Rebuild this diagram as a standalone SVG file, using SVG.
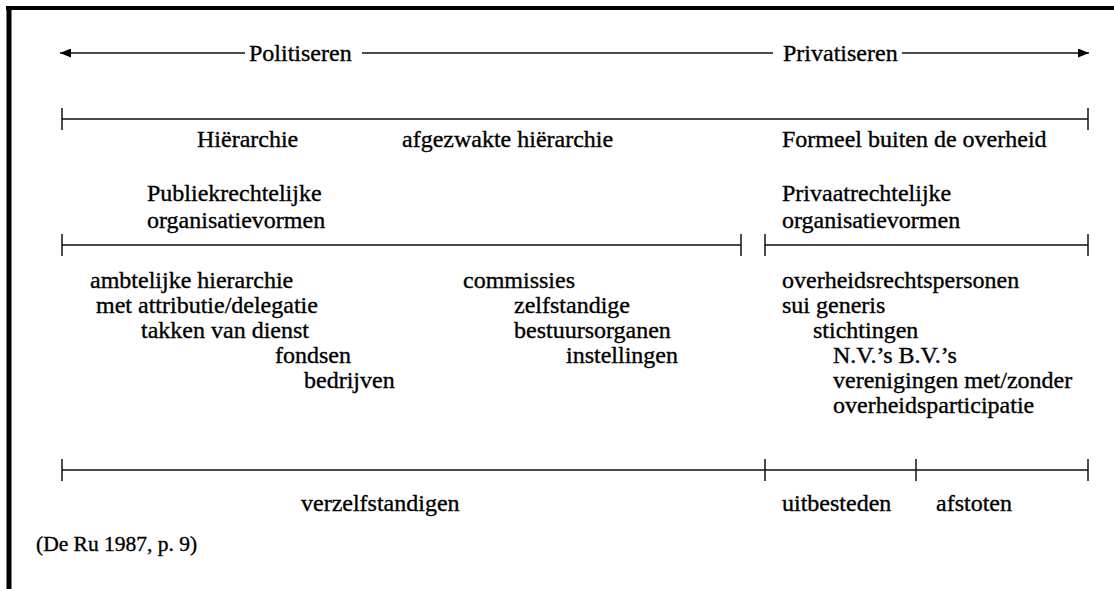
<svg xmlns="http://www.w3.org/2000/svg" width="1114" height="589" viewBox="0 0 1114 589">
<style>
text{font-family:"Liberation Serif","Times New Roman",serif;font-size:24px;fill:#000;stroke:#000;stroke-width:0.35;}
.ax{stroke:#111;stroke-width:1.6;fill:none;}
.sc{stroke:#4a4a4a;stroke-width:2;fill:none;}
.tk{stroke:#111;stroke-width:1.5;fill:none;}
.fr{stroke:#000;fill:none;}
</style>
<defs>
<marker id="ah" viewBox="0 0 11 9" refX="11" refY="4.5" markerWidth="11" markerHeight="9" markerUnits="userSpaceOnUse" orient="auto">
<path d="M0,0 L11,4.5 L0,9 z" fill="#000"/>
</marker>
</defs>
<rect width="1114" height="589" fill="#fff"/>
<g id="frame">
<line class="fr" x1="6" y1="8" x2="1114" y2="8" stroke-width="4"/>
<line class="fr" x1="9" y1="6" x2="9" y2="589" stroke-width="5"/>
</g>
<g id="connectors">
<line class="ax" x1="245" y1="53" x2="60" y2="53" marker-end="url(#ah)"/>
<line class="ax" x1="362" y1="53" x2="773" y2="53"/>
<line class="ax" x1="902" y1="53" x2="1089" y2="53" marker-end="url(#ah)"/>
<line class="sc" x1="62" y1="119" x2="1088" y2="119"/>
<line class="tk" x1="62" y1="108" x2="62" y2="130"/>
<line class="tk" x1="1088" y1="108" x2="1088" y2="130"/>
<line class="sc" x1="62" y1="245" x2="741" y2="245"/>
<line class="tk" x1="62" y1="234" x2="62" y2="256"/>
<line class="tk" x1="741" y1="234" x2="741" y2="256"/>
<line class="sc" x1="765" y1="245" x2="1088" y2="245"/>
<line class="tk" x1="765" y1="234" x2="765" y2="256"/>
<line class="tk" x1="1088" y1="234" x2="1088" y2="256"/>
<line class="sc" x1="62" y1="470" x2="1088" y2="470"/>
<line class="tk" x1="62" y1="459" x2="62" y2="481"/>
<line class="tk" x1="765" y1="459" x2="765" y2="481"/>
<line class="tk" x1="916" y1="459" x2="916" y2="481"/>
<line class="tk" x1="1088" y1="459" x2="1088" y2="481"/>
</g>
<g id="politiseren"><text x="249" y="61">Politiseren</text></g>
<g id="privatiseren"><text x="783" y="61">Privatiseren</text></g>
<g id="hierarchie"><text x="197" y="147">Hiërarchie</text></g>
<g id="afgezwakte"><text x="402" y="147">afgezwakte hiërarchie</text></g>
<g id="formeel"><text x="782" y="147">Formeel buiten de overheid</text></g>
<g id="publiek"><text x="147" y="201">Publiekrechtelijke</text><text x="147" y="228">organisatievormen</text></g>
<g id="privaat"><text x="782" y="201">Privaatrechtelijke</text><text x="782" y="228">organisatievormen</text></g>
<g id="lijst-publiek">
<text x="90" y="288">ambtelijke hierarchie</text>
<text x="96" y="313">met attributie/delegatie</text>
<text x="141" y="338">takken van dienst</text>
<text x="275" y="363">fondsen</text>
<text x="304" y="388">bedrijven</text>
</g>
<g id="lijst-zbo">
<text x="463" y="288">commissies</text>
<text x="514" y="313">zelfstandige</text>
<text x="514" y="338">bestuursorganen</text>
<text x="566" y="363">instellingen</text>
</g>
<g id="lijst-privaat">
<text x="782" y="288">overheidsrechtspersonen</text>
<text x="782" y="313">sui generis</text>
<text x="813" y="338">stichtingen</text>
<text x="833" y="363">N.V.’s B.V.’s</text>
<text x="833" y="388">verenigingen met/zonder</text>
<text x="833" y="413">overheidsparticipatie</text>
</g>
<g id="verzelfstandigen"><text x="301" y="511">verzelfstandigen</text></g>
<g id="uitbesteden"><text x="782" y="511">uitbesteden</text></g>
<g id="afstoten"><text x="936" y="511">afstoten</text></g>
<g id="bron"><text x="36" y="551" style="font-size:21.5px">(De Ru 1987, p. 9)</text></g>
</svg>
